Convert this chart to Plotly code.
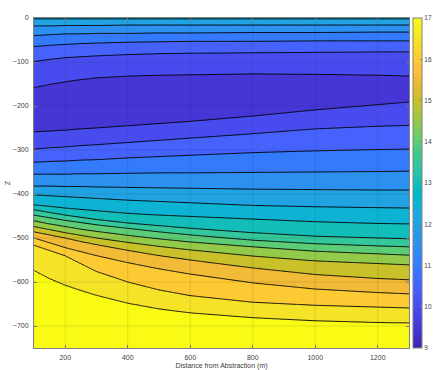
import numpy as np
import plotly.graph_objects as go

# ---------------- data ----------------
distance = [100, 150, 200, 250, 300, 400, 500, 600, 800, 1000, 1200, 1300]   # m
depth_top, value_top = 0, 12.6                                 # surface value
depth_bottom, value_bottom = -750, 17.4                         # deepest value
value_min = 9.75                                                # core of coldest band
depth_min = [-208, -203, -200, -197, -193, -188, -184, -181, -175, -168, -162, -161]

# contour depths above the cold core (value decreases downward)
up_12_5 = [-2, -2, -2, -2, -2, -2, -2, -2, -2, -2, -2, -2]
up_12_0 = [-18, -18, -17, -17, -17, -16, -16, -16, -16, -16, -16, -16]
up_11_5 = [-40, -38, -36, -36, -35, -35, -34, -34, -33, -33, -32, -32]
up_11_0 = [-65, -62, -60, -58, -57, -55, -54, -53, -53, -52, -52, -52]
up_10_5 = [-99, -94, -90, -88, -86, -83, -81, -80, -79, -78, -77, -77]
up_10_0 = [-158, -151, -145, -140, -136, -132, -130, -129, -127, -128, -130, -132]

# contour depths below the cold core (value increases downward)
lo_10_0 = [-259, -257, -255, -252, -250, -245, -240, -235, -223, -209, -197, -191]
lo_10_5 = [-298, -295, -293, -290, -288, -283, -278, -273, -263, -252, -246, -244]
lo_11_0 = [-328, -326, -325, -323, -322, -318, -315, -312, -306, -302, -299, -298]
lo_11_5 = [-355, -355, -355, -354, -354, -353, -352, -352, -351, -350, -349, -348]
lo_12_0 = [-382, -382, -383, -383, -384, -385, -386, -387, -389, -390, -391, -391]
lo_12_5 = [-402, -404, -406, -408, -410, -414, -417, -420, -426, -429, -431, -432]
lo_13_0 = [-425, -428, -432, -435, -438, -444, -448, -451, -457, -463, -467, -468]
lo_13_5 = [-436, -442, -448, -453, -458, -466, -472, -478, -488, -496, -500, -502]
lo_14_0 = [-448, -454, -460, -465, -470, -478, -486, -493, -505, -513, -518, -520]
lo_14_5 = [-461, -468, -474, -480, -485, -494, -502, -509, -520, -530, -536, -539]
lo_15_0 = [-474, -481, -488, -494, -500, -510, -519, -527, -541, -552, -558, -561]
lo_15_5 = [-486, -493, -500, -508, -515, -528, -540, -550, -568, -583, -592, -595]
lo_16_0 = [-500, -511, -522, -531, -540, -556, -570, -582, -602, -616, -624, -627]
lo_16_5 = [-516, -528, -540, -558, -576, -600, -618, -631, -646, -653, -657, -659]
lo_17_0 = [-573, -592, -607, -619, -630, -648, -661, -670, -681, -688, -692, -693]

contour_levels = [10.0, 17.0, 0.5]   # start, end, step
cbar_ticks = [9, 10, 11, 12, 13, 14, 15, 16, 17]
cbar_range = [9, 17]
x_ticks = [200, 400, 600, 800, 1000, 1200]
y_ticks = [0, -100, -200, -300, -400, -500, -600, -700]
x_range = [100, 1300]
y_range = [-750, 0]

# ---------------- build the grid the contour trace needs ----------------
upper = [(12.5, up_12_5), (12.0, up_12_0), (11.5, up_11_5), (11.0, up_11_0),
         (10.5, up_10_5), (10.0, up_10_0)]
lower = [(10.0, lo_10_0), (10.5, lo_10_5), (11.0, lo_11_0), (11.5, lo_11_5),
         (12.0, lo_12_0), (12.5, lo_12_5), (13.0, lo_13_0), (13.5, lo_13_5),
         (14.0, lo_14_0), (14.5, lo_14_5), (15.0, lo_15_0), (15.5, lo_15_5),
         (16.0, lo_16_0), (16.5, lo_16_5), (17.0, lo_17_0)]

gx = np.arange(x_range[0], x_range[1] + 1, 10.0)   # grid columns
depth = np.arange(0, -751, -1.0)                    # grid rows


def along_x(vals):
    return np.interp(gx, distance, vals)


cols_d = [np.full_like(gx, depth_top)] + [along_x(c[1]) for c in upper] + \
         [along_x(depth_min)] + [along_x(c[1]) for c in lower] + \
         [np.full_like(gx, depth_bottom)]
cols_v = [value_top] + [c[0] for c in upper] + [value_min] + \
         [c[0] for c in lower] + [value_bottom]

grid = np.zeros((len(depth), len(gx)))
for j in range(len(gx)):
    d = np.array([c[j] for c in cols_d])
    v = np.array(cols_v, float)
    o = np.argsort(d)
    grid[:, j] = np.interp(depth, d[o], v[o])

# ---------------- parula colormap ----------------
parula = [
    (0.2422, 0.1504, 0.6603), (0.2504, 0.1650, 0.7076), (0.2578, 0.1818, 0.7511),
    (0.2647, 0.1978, 0.7952), (0.2706, 0.2147, 0.8364), (0.2751, 0.2342, 0.8710),
    (0.2783, 0.2559, 0.8991), (0.2803, 0.2782, 0.9221), (0.2813, 0.3006, 0.9414),
    (0.2810, 0.3228, 0.9579), (0.2795, 0.3447, 0.9717), (0.2760, 0.3667, 0.9829),
    (0.2699, 0.3892, 0.9906), (0.2602, 0.4123, 0.9952), (0.2440, 0.4358, 0.9988),
    (0.2206, 0.4603, 0.9973), (0.1963, 0.4847, 0.9892), (0.1834, 0.5074, 0.9798),
    (0.1786, 0.5289, 0.9682), (0.1764, 0.5499, 0.9520), (0.1687, 0.5703, 0.9359),
    (0.1540, 0.5902, 0.9218), (0.1460, 0.6091, 0.9079), (0.1380, 0.6276, 0.8973),
    (0.1248, 0.6459, 0.8883), (0.1113, 0.6635, 0.8763), (0.0952, 0.6798, 0.8598),
    (0.0689, 0.6948, 0.8394), (0.0297, 0.7082, 0.8163), (0.0036, 0.7203, 0.7917),
    (0.0067, 0.7312, 0.7660), (0.0433, 0.7411, 0.7394), (0.0964, 0.7500, 0.7120),
    (0.1408, 0.7584, 0.6842), (0.1717, 0.7670, 0.6554), (0.1938, 0.7758, 0.6251),
    (0.2161, 0.7843, 0.5923), (0.2470, 0.7918, 0.5567), (0.2906, 0.7973, 0.5188),
    (0.3406, 0.8008, 0.4789), (0.3909, 0.8029, 0.4354), (0.4456, 0.8024, 0.3909),
    (0.5044, 0.7993, 0.3480), (0.5616, 0.7942, 0.3045), (0.6174, 0.7876, 0.2612),
    (0.6720, 0.7793, 0.2227), (0.7242, 0.7698, 0.1910), (0.7738, 0.7598, 0.1646),
    (0.8203, 0.7498, 0.1535), (0.8634, 0.7406, 0.1596), (0.9035, 0.7330, 0.1774),
    (0.9393, 0.7288, 0.2100), (0.9728, 0.7298, 0.2394), (0.9956, 0.7434, 0.2371),
    (0.9970, 0.7659, 0.2199), (0.9952, 0.7893, 0.2028), (0.9892, 0.8136, 0.1885),
    (0.9786, 0.8386, 0.1766), (0.9676, 0.8639, 0.1643), (0.9610, 0.8890, 0.1537),
    (0.9597, 0.9135, 0.1423), (0.9628, 0.9373, 0.1265), (0.9691, 0.9606, 0.1064),
    (0.9769, 0.9839, 0.0805)]
P = np.array(parula)


def parula_at(f):
    idx = f * (len(P) - 1)
    c = np.array([np.interp(idx, np.arange(len(P)), P[:, k]) for k in range(3)])
    r, g, b = (c * 255).round().astype(int)
    return f"rgb({r},{g},{b})"


continuous_scale = [[i / (len(P) - 1), parula_at(i / (len(P) - 1))] for i in range(len(P))]

# MATLAB contourf colours each band by its lower level; plotly colours band k at k/nbands
start, end, step = contour_levels
n_levels = int(round((end - start) / step)) + 1
n_bands = n_levels + 1
cmin, cmax = cbar_range
band_scale = []
for k in range(n_bands):
    lower_val = start - step + k * step
    band_scale.append([k / (n_bands - 1), parula_at((lower_val - cmin) / (cmax - cmin))])

FONT = "Liberation Sans, Arial, sans-serif"
TXT = "rgb(64,64,64)"
AX = "rgb(128,128,128)"

fig = go.Figure()
fig.add_trace(go.Contour(
    x=gx, y=depth, z=grid,
    autocontour=False,
    contours=dict(start=start, end=end, size=step, coloring="fill"),
    colorscale=band_scale,
    line=dict(color="black", width=0.9, smoothing=1),
    showscale=False,
    hoverinfo="skip",
))
# continuous colour bar as in MATLAB
fig.add_trace(go.Scatter(
    x=[x_range[0] + 1], y=[y_range[0] + 1], mode="markers",
    marker=dict(size=1, opacity=0, color=[cmin], cmin=cmin, cmax=cmax,
                colorscale=continuous_scale, showscale=True,
                colorbar=dict(x=(413 - 34) / 375, xanchor="left", xpad=0, ypad=0,
                              y=0.5, yanchor="middle", len=1, lenmode="fraction",
                              thickness=9, outlinewidth=1, outlinecolor=AX,
                              tickvals=cbar_ticks, ticks="inside", ticklen=2,
                              tickcolor=AX,
                              tickfont=dict(size=6.5, color=TXT, family=FONT))),
    hoverinfo="skip", showlegend=False,
))

# faint grid on top of the filled contours (MATLAB grid on)
grid_col = "rgba(40,40,40,0.12)"
for xv in x_ticks:
    fig.add_shape(type="line", xref="x", yref="paper", x0=xv, x1=xv, y0=0, y1=1,
                  line=dict(color=grid_col, width=1), layer="above")
for yv in y_ticks[1:]:
    fig.add_shape(type="line", xref="paper", yref="y", x0=0, x1=1, y0=yv, y1=yv,
                  line=dict(color=grid_col, width=1), layer="above")

axis_common = dict(showline=True, linecolor=AX, linewidth=1, mirror="ticks",
                   ticks="inside", ticklen=3, tickcolor=AX, showgrid=False,
                   zeroline=False, automargin=False, ticklabelstandoff=3,
                   tickfont=dict(size=7, color=TXT, family=FONT))
fig.update_layout(
    width=434, height=370,
    margin=dict(l=34, r=25, t=18, b=22, autoexpand=False),
    paper_bgcolor="white", plot_bgcolor="white",
    showlegend=False,
    xaxis=dict(range=x_range, tickvals=x_ticks,
               title=dict(text="Distance from Abstraction (m)",
                          font=dict(size=7, color=TXT, family=FONT), standoff=3),
               **axis_common),
    yaxis=dict(range=y_range, tickvals=y_ticks,
               title=dict(text="Z", font=dict(size=7, color=TXT, family=FONT), standoff=1),
               **axis_common),
)
# remove the default page margin so the figure fills the 434x370 window exactly
fig.write_html("out.html",
               config={"displayModeBar": False},
               post_script="document.body.style.margin='0';"
                           "document.body.style.overflow='hidden';")
